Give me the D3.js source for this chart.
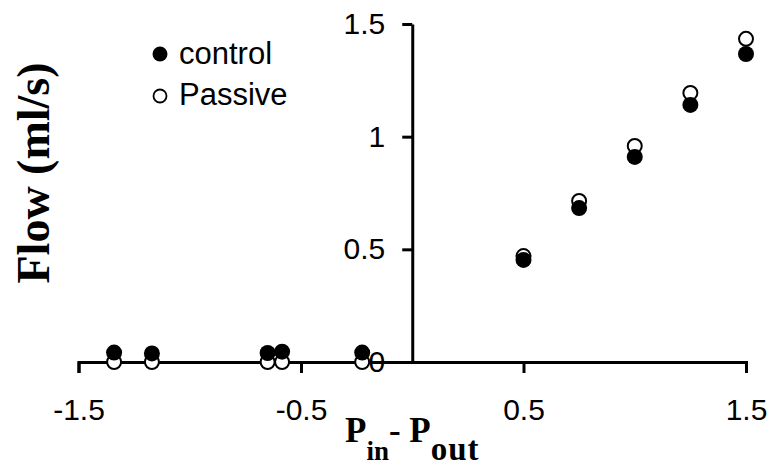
<!DOCTYPE html>
<html>
<head>
<meta charset="utf-8">
<script src="https://cdn.jsdelivr.net/npm/d3@7"></script>
<style>
  html, body { margin: 0; padding: 0; background: #fff; }
  svg { display: block; }
</style>
</head>
<body>
<svg id="chart" width="773" height="468"></svg>
<script>
// ---- data ----
const controlX = [-1.34, -1.17, -0.65, -0.585, -0.225, 0.5, 0.75, 1.0, 1.25, 1.5];
const controlY = [0.042, 0.038, 0.040, 0.046, 0.042, 0.453, 0.683, 0.91, 1.141, 1.367];
const passiveX = [-1.34, -1.17, -0.65, -0.585, -0.225, 0.5, 0.75, 1.0, 1.25, 1.5];
const passiveY = [0.0, 0.0, 0.0, 0.0, 0.0, 0.47, 0.715, 0.959, 1.194, 1.434];
const xTicks = [-1.5, -0.5, 0.5, 1.5];
const xTickLabels = ["-1.5", "-0.5", "0.5", "1.5"];
const yTicks = [0, 0.5, 1, 1.5];
const yTickLabels = ["0", "0.5", "1", "1.5"];
const seriesNames = ["control", "Passive"];

const svg = d3.select("#chart");
const x = d3.scaleLinear().domain([-1.5, 1.5]).range([78.5, 746]);
const y = d3.scaleLinear().domain([0, 1.5]).range([362, 24]);

const tickFont = "Liberation Sans, Arial, sans-serif";
const titleFont = "Liberation Serif, Times New Roman, serif";

// x axis
const gx = svg.append("g").attr("transform", `translate(0,${y(0)})`)
  .call(d3.axisBottom(x).tickValues(xTicks).tickSize(11).tickSizeOuter(11).tickPadding(26)
    .tickFormat((d, i) => xTickLabels[i]));
// y axis
const gy = svg.append("g").attr("transform", `translate(${x(0)},0)`)
  .call(d3.axisLeft(y).tickValues(yTicks).tickSize(10).tickSizeOuter(0).tickPadding(17)
    .tickFormat((d, i) => yTickLabels[i]));

[gx, gy].forEach(g => {
  g.select(".domain").attr("stroke", "#000").attr("stroke-width", 3).attr("fill", "none");
  g.selectAll(".tick line").attr("stroke", "#000").attr("stroke-width", 3);
  g.selectAll(".tick text").attr("fill", "#000").style("font-family", tickFont).style("font-size", "30px");
});

// points
const passive = passiveX.map((v, i) => ({x: v, y: passiveY[i]}));
const control = controlX.map((v, i) => ({x: v, y: controlY[i]}));

svg.append("g").selectAll("circle").data(passive).join("circle")
  .attr("cx", d => x(d.x)).attr("cy", d => y(d.y)).attr("r", 7)
  .attr("fill", "#fff").attr("stroke", "#000").attr("stroke-width", 2);
svg.append("g").selectAll("circle").data(control).join("circle")
  .attr("cx", d => x(d.x)).attr("cy", d => y(d.y)).attr("r", 8)
  .attr("fill", "#000");

// legend
const legend = svg.append("g");
const legItems = [
  {name: seriesNames[0], cy: 54, ty: 64, filled: true},
  {name: seriesNames[1], cy: 96, ty: 105, filled: false}
];
legItems.forEach(it => {
  if (it.filled) {
    legend.append("circle").attr("cx", 160).attr("cy", it.cy).attr("r", 7.5).attr("fill", "#000");
  } else {
    legend.append("circle").attr("cx", 160).attr("cy", it.cy).attr("r", 6.5)
      .attr("fill", "#fff").attr("stroke", "#000").attr("stroke-width", 1.8);
  }
  legend.append("text").attr("x", 179).attr("y", it.ty).text(it.name)
    .style("font-family", tickFont).style("font-size", "31px").attr("fill", "#000");
});

// y title
svg.append("text")
  .attr("transform", "translate(49,173) rotate(-90)")
  .attr("text-anchor", "middle")
  .style("font-family", titleFont).style("font-weight", "bold").style("font-size", "46px")
  .text("Flow (ml/s)");

// x title
const xt = svg.append("text").attr("x", 345).attr("y", 442)
  .style("font-family", titleFont).style("font-weight", "bold").style("font-size", "35px");
xt.append("tspan").text("P");
xt.append("tspan").attr("dy", 18).style("font-size", "27px").text("in");
xt.append("tspan").attr("dy", -18).text("- P");
xt.append("tspan").attr("dy", 18).style("font-size", "33px").style("letter-spacing", "1px").text("out");
</script>
</body>
</html>
